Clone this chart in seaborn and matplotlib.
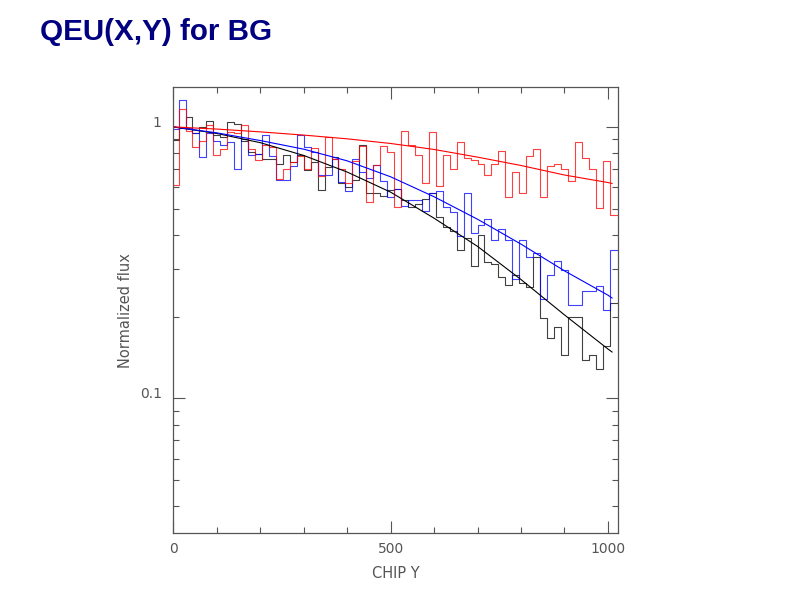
import numpy as np
import matplotlib
matplotlib.use("Agg")
import matplotlib.pyplot as plt
from matplotlib.ticker import FixedLocator, NullFormatter
import seaborn as sns

sns.set_style("ticks")
plt.rcParams["font.family"] = ["DejaVu Sans"]

# Binned normalized flux along CHIP Y (64 bins, 16 pixels wide)
bin_left = [0] + list(range(12, 1005, 16))
x_end = 1024

flux_red = [0.612, 1.16, 0.97, 0.847, 0.884, 1.019, 0.79, 0.83, 0.96, 0.95,
            1.02, 0.83, 0.757, 0.857, 0.84, 0.645, 0.70, 0.745, 0.78, 0.70,
            0.835, 0.66, 0.92, 0.76, 0.70, 0.62, 0.75, 0.85, 0.531, 0.726,
            0.852, 0.805, 0.508, 0.965, 0.856, 0.788, 0.622, 0.96, 0.608, 0.79,
            0.70, 0.878, 0.77, 0.755, 0.732, 0.666, 0.73, 0.812, 0.551, 0.681,
            0.57, 0.783, 0.829, 0.551, 0.719, 0.73, 0.699, 0.633, 0.88, 0.768,
            0.699, 0.503, 0.746, 0.474]

flux_blue = [0.98, 1.26, 0.99, 0.95, 0.774, 0.95, 0.884, 0.86, 0.88, 0.699,
             0.90, 0.79, 0.798, 0.933, 0.783, 0.637, 0.637, 0.72, 0.933, 0.845,
             0.81, 0.664, 0.666, 0.761, 0.629, 0.583, 0.761, 0.68, 0.65, 0.726,
             0.63, 0.551, 0.59, 0.512, 0.536, 0.536, 0.488, 0.573, 0.58, 0.507,
             0.486, 0.395, 0.573, 0.407, 0.436, 0.458, 0.384, 0.42, 0.384, 0.275,
             0.384, 0.333, 0.344, 0.232, 0.284, 0.321, 0.298, 0.221, 0.221, 0.248,
             0.248, 0.26, 0.211, 0.353]

flux_black = [0.897, 0.99, 1.088, 0.95, 0.996, 1.054, 0.936, 0.92, 1.043, 1.025,
              0.89, 0.805, 0.798, 0.764, 0.76, 0.733, 0.79, 0.74, 0.788, 0.694,
              0.74, 0.584, 0.711, 0.778, 0.62, 0.60, 0.64, 0.86, 0.57, 0.57,
              0.557, 0.586, 0.59, 0.539, 0.506, 0.52, 0.542, 0.573, 0.467, 0.427,
              0.415, 0.352, 0.39, 0.307, 0.401, 0.318, 0.313, 0.28, 0.262, 0.284,
              0.267, 0.258, 0.331, 0.198, 0.167, 0.183, 0.144, 0.20, 0.20, 0.139,
              0.145, 0.128, 0.156, 0.225]

# Fitted curves
fit_x = [0, 100, 200, 300, 400, 500, 600, 700, 800, 900, 1000, 1010]
fit_red = [1.0, 0.982, 0.959, 0.933, 0.904, 0.869, 0.826, 0.774, 0.721, 0.665, 0.624, 0.619]
fit_blue = [1.0, 0.951, 0.891, 0.828, 0.750, 0.655, 0.553, 0.457, 0.370, 0.295, 0.240, 0.234]
fit_black = [1.0, 0.946, 0.875, 0.785, 0.682, 0.575, 0.461, 0.363, 0.274, 0.203, 0.152, 0.148]

fig = plt.figure(figsize=(7.92, 6.12), dpi=100)
ax = fig.add_axes([0.2189, 0.1291, 0.5618, 0.7283])

edges = bin_left + [x_end]
for vals, col in [(flux_black, "black"), (flux_blue, "#0000ff"), (flux_red, "#ff0000")]:
    sns.lineplot(x=edges, y=vals + [vals[-1]], drawstyle="steps-post",
                 color=col, linewidth=0.8, alpha=0.75, ax=ax)

for vals, col in [(fit_black, "black"), (fit_blue, "#0000ff"), (fit_red, "#ff0000")]:
    sns.lineplot(x=fit_x, y=vals, color=col, linewidth=0.8, ax=ax)

ax.set_yscale("log")
ax.set_xlim(0, 1024)
ax.set_ylim(0.0319, 1.40)

ax.xaxis.set_major_locator(FixedLocator([0, 500, 1000]))
ax.xaxis.set_minor_locator(FixedLocator([100, 200, 300, 400, 600, 700, 800, 900]))
ax.yaxis.set_major_locator(FixedLocator([0.1, 1]))
ax.yaxis.set_minor_locator(FixedLocator([0.04, 0.05, 0.06, 0.07, 0.08, 0.09,
                                         0.2, 0.3, 0.4, 0.5, 0.6, 0.7, 0.8, 0.9]))
ax.yaxis.set_minor_formatter(NullFormatter())
ax.set_xticklabels(["0", "500", "1000"])
ax.set_yticklabels(["0.1", "1"])

grey = "#555555"
txt = "#555555"
ax.tick_params(which="both", direction="in", top=True, right=True,
               color=grey, width=0.8, labelcolor=txt, labelsize=10)
ax.tick_params(which="major", length=8.5)
ax.tick_params(which="minor", length=4)
ax.tick_params(axis="y", pad=8.4)
ax.tick_params(axis="x", pad=6.2)
for t in ax.get_yticklabels():
    t.set_va("baseline")
for s in ax.spines.values():
    s.set_color(grey)
    s.set_linewidth(0.9)

ax.set_xlabel("CHIP Y", fontsize=10.5, color=txt, va="center")
ax.set_ylabel("Normalized flux", fontsize=10.5, color=txt, va="center")
ax.xaxis.set_label_coords(0.5, -0.092)
ax.yaxis.set_label_coords(-0.1085, 0.5)

fig.text(40 / 792, 1 - 40 / 612, "QEU(X,Y) for BG", fontsize=21.3, fontweight="bold",
         color="#000080", family="Liberation Sans", ha="left", va="baseline")

fig.savefig("out.png", dpi=100)
